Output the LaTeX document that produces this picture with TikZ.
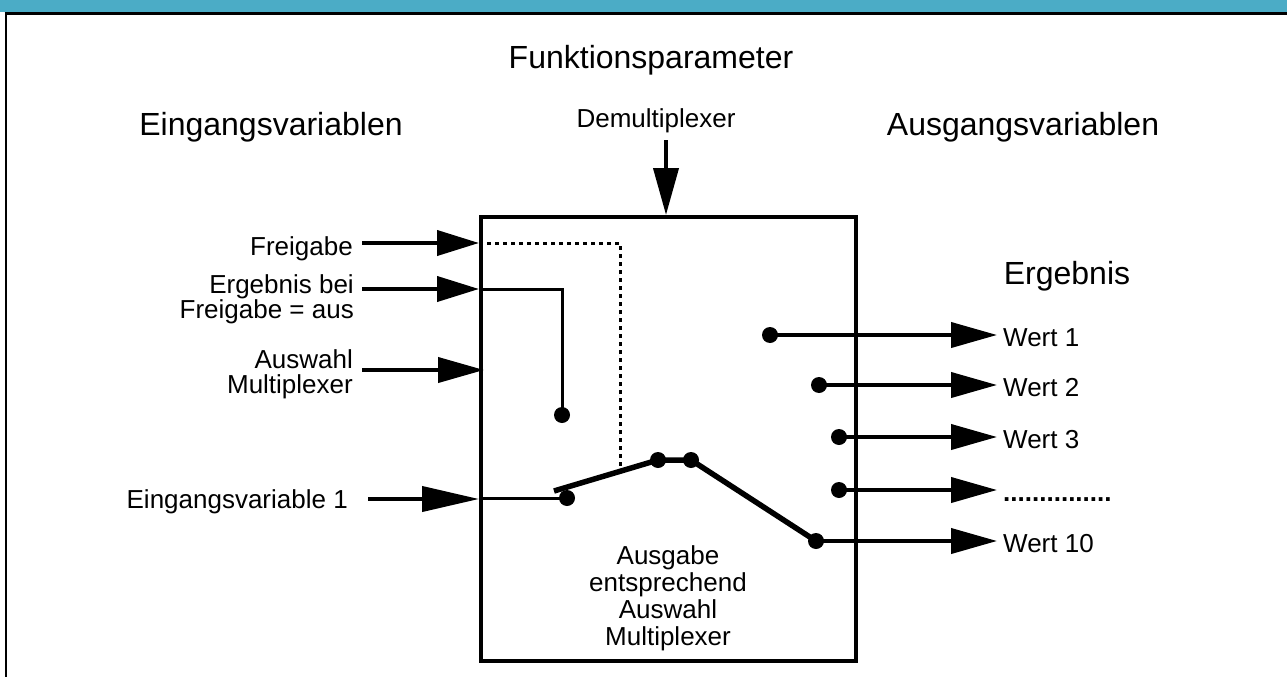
\documentclass[tikz,border=0pt]{standalone}
\usepackage{fontspec}
\setmainfont{Liberation Sans}
\usetikzlibrary{arrows.meta, positioning, calc}
\definecolor{headteal}{HTML}{4BACC6}
\newcommand{\moreDots}{{\bfseries ...............}}

\begin{document}
\begin{tikzpicture}[x=1pt, y=-1pt,
    lbl/.style={font=\fontsize{26}{25}\selectfont, inner sep=0pt},
    head/.style={font=\fontsize{32}{36}\selectfont, inner sep=0pt},
    inarr/.style={line width=4pt, -{Triangle[length=#1, width=25pt]}},
    inarr/.default=42pt,
    wire/.style={line width=3pt},
    blade/.style={line width=5.5pt},
    ctrl/.style={line width=3pt, dash pattern=on 4pt off 4pt},
    dot/.style={circle, fill, inner sep=0pt, minimum size=16pt}
]
\useasboundingbox (0,0) rectangle (1287,677);

% Frame
\fill[headteal] (0,0) rectangle (1287,12.5);
\draw[line width=2.5pt] (4.5,13.75) -- (1287,13.75);
\draw[line width=2.5pt] (5.75,13.75) -- (5.75,677);

% Block
\node[draw, line width=4pt, minimum width=375pt, minimum height=444pt, inner sep=0pt] (mux) at (668.5,439) {};

% Headings
\node[head, anchor=base] (fpar) at (651,68) {Funktionsparameter};
\node[head, anchor=base] (ein) at (271,135) {Eingangsvariablen};
\node[head, anchor=base] (aus) at (1023,135) {Ausgangsvariablen};
\node[head, anchor=base] (erg) at (1067,284) {Ergebnis};

% Demultiplexer
\node[lbl, anchor=base] (demux) at (656,127) {Demultiplexer};
\coordinate (dmTop) at (666,140);
\draw[inarr=47pt] (dmTop) -- (dmTop |- mux.north);

% Inputs
\node[lbl, anchor=base east] (frei) at (353,255) {Freigabe};
\node[lbl, anchor=north east, align=right] (ergaus) at (354,274) {Ergebnis bei\\Freigabe = aus};
\node[lbl, anchor=north east, align=right] (wahl) at (353,349) {Auswahl\\Multiplexer};
\node[lbl, anchor=base east] (evar) at (348,508) {Eingangsvariable 1};

\coordinate (freiIn) at (362,243);
\coordinate (ergIn) at (362,289);
\coordinate (wahlIn) at (362,370);
\coordinate (evarIn) at (368,499);

\draw[inarr] (freiIn) -- (freiIn -| mux.west);
\draw[inarr] (ergIn) -- (ergIn -| mux.west);
\draw[inarr=46pt] (wahlIn) -- ([xshift=5pt]wahlIn -| mux.west);
\draw[inarr=57pt] (evarIn) -- (evarIn -| mux.west);

% Switch
\node[dot] (pOff) at (562,415) {};
\node[dot] (pIn) at (567,498) {};
\node[dot] (pA) at (658,460) {};
\node[dot] (pB) at (691,460) {};
\node[dot] (o10) at (816,541) {};
\coordinate (bladeEnd) at (554,491);
\coordinate (ctrlEnd) at (620,468);

\draw[wire] (ergIn -| mux.west) -| (pOff.center);
\draw[wire] (pIn -| mux.west) -- (pIn.center);
\draw[ctrl] (freiIn -| mux.west) -| (ctrlEnd);
\draw[blade] (bladeEnd) -- (pA.center) -- (pB.center) -- (o10.center);

% Outputs
\foreach \k/\y/\x/\txt in {1/335/770/Wert 1, 2/385/819/Wert 2, 3/437/839/Wert 3, 4/490/839/\moreDots} {
    \node[dot] (o\k) at (\x,\y) {};
    \coordinate (t\k) at (997,\y);
    \draw[inarr=46pt] (o\k.center) -- (t\k);
    \node[lbl, anchor=base west] (w\k) at (1003,\y+11) {\txt};
}
\coordinate (t10) at (997,541);
\draw[inarr=46pt] (o10.center) -- (t10);
\node[lbl, anchor=base west] (w10) at (1003,552) {Wert 10};

% Label
\node[lbl, anchor=north, align=center, font=\fontsize{26}{27}\selectfont] (sel) at (668,545) {Ausgabe\\entsprechend\\Auswahl\\Multiplexer};

\end{tikzpicture}
\end{document}
